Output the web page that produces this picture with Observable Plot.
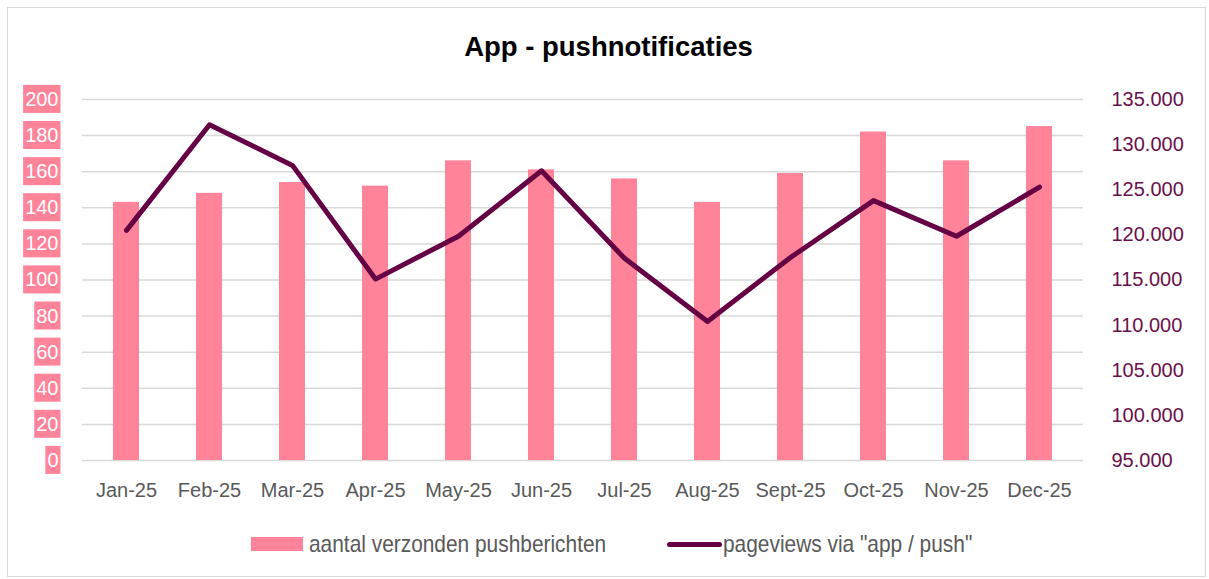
<!DOCTYPE html>
<html>
<head>
<meta charset="utf-8">
<script src="https://cdn.jsdelivr.net/npm/d3@7"></script>
<script src="https://cdn.jsdelivr.net/npm/@observablehq/plot@0.6"></script>
<style>
  html, body { margin: 0; padding: 0; background: #fff; width: 1209px; height: 579px; overflow: hidden; }
  body { position: relative; font-family: "Liberation Sans", Arial, sans-serif; }
  #frame { position: absolute; left: 7px; top: 7px; width: 1199px; height: 570px; box-sizing: border-box; border: 1px solid #d9d9d9; }
  #title { position: absolute; left: 0; width: 1217px; top: 32px; line-height: 30px; text-align: center; font-size: 27.5px; font-weight: bold; color: #000; }
  #chart { position: absolute; left: 0; top: 60px; }
  #legend { position: absolute; left: 0; top: 0; }
  .sw-bar { position: absolute; left: 251px; top: 537px; width: 52px; height: 14px; background: #ff8399; }
  .sw-line { position: absolute; left: 667px; top: 542px; width: 55px; height: 5px; border-radius: 3px; background: #660044; }
  .lg-text { position: absolute; top: 530px; line-height: 28px; font-size: 24px; color: #595959; white-space: nowrap; transform: scaleX(0.87); transform-origin: 0 50%; }
</style>
</head>
<body>
<div id="frame"></div>
<div id="title">App - pushnotificaties</div>
<div id="chart"></div>
<div id="legend">
  <div class="sw-bar"></div><span class="lg-text" style="left:309px">aantal verzonden pushberichten</span>
  <div class="sw-line"></div><span class="lg-text" style="left:723px">pageviews via "app / push"</span>
</div>
<script>
const months = ["Jan-25","Feb-25","Mar-25","Apr-25","May-25","Jun-25","Jul-25","Aug-25","Sept-25","Oct-25","Nov-25","Dec-25"];
const pushCount = [143, 148, 154, 152, 166, 161, 156, 143, 159, 182, 166, 185];
const pageviews = [120500, 132200, 127700, 115100, 119850, 127100, 117400, 110400, 117500, 123800, 119850, 125300];
const leftTicks = [0, 20, 40, 60, 80, 100, 120, 140, 160, 180, 200];
const rightTicks = [95000, 100000, 105000, 110000, 115000, 120000, 125000, 130000, 135000];

const leftDomain = [0, 200];
const rightDomain = [95000, 135000];
const toLeft = d3.scaleLinear(rightDomain, leftDomain);
const nl = d3.formatLocale({decimal: ",", thousands: ".", grouping: [3], currency: ["€", ""]});
const fmt = nl.format(",.0f");

const rows = months.map((m, i) => ({month: m, count: pushCount[i], views: pageviews[i]}));

const svg = Plot.plot({
  width: 1209,
  height: 450,
  marginLeft: 82,
  marginRight: 126,
  marginTop: 39,
  marginBottom: 50,
  style: {fontFamily: "'Liberation Sans', Arial, sans-serif", background: "transparent"},
  x: {domain: months, paddingInner: 0.69, paddingOuter: 0.345, label: null},
  y: {domain: leftDomain, label: null},
  marks: [
    Plot.gridY(leftTicks, {stroke: "#d9d9d9", strokeOpacity: 1, strokeWidth: 1.5}),
    Plot.barY(rows, {x: "month", y: "count", fill: "#ff8399"}),
    Plot.lineY(rows, {x: "month", y: d => toLeft(d.views), stroke: "#660044", strokeWidth: 5, strokeLinecap: "round", strokeLinejoin: "round"}),
    Plot.axisY(leftTicks, {anchor: "left", tickSize: 0, tickPadding: 24, fill: "white", fontSize: 20, label: null}),
    Plot.axisY(rightTicks.map(v => toLeft(v)), {anchor: "right", tickSize: 0, tickPadding: 28, textAnchor: "start", fill: "#6b0f4a", fontSize: 20, label: null, tickFormat: d => fmt(Math.round(toLeft.invert(d)))}),
    Plot.axisX({tickSize: 0, tickPadding: 22, fill: "#595959", fontSize: 20, label: null})
  ]
});
document.getElementById("chart").appendChild(svg);

// pink boxes behind the left tick labels
const groups = svg.querySelectorAll('g[aria-label="y-axis tick label"]');
if (groups.length) {
  const g = groups[0];
  g.querySelectorAll("text").forEach(t => {
    const b = t.getBBox();
    const r = document.createElementNS("http://www.w3.org/2000/svg", "rect");
    r.setAttribute("x", b.x - 2);
    r.setAttribute("y", b.y - 3);
    r.setAttribute("width", b.width + 4);
    r.setAttribute("height", b.height + 6);
    r.setAttribute("fill", "#ff8399");
    r.setAttribute("stroke", "none");
    if (t.getAttribute("transform")) r.setAttribute("transform", t.getAttribute("transform"));
    g.insertBefore(r, t);
  });
}
</script>
</body>
</html>
